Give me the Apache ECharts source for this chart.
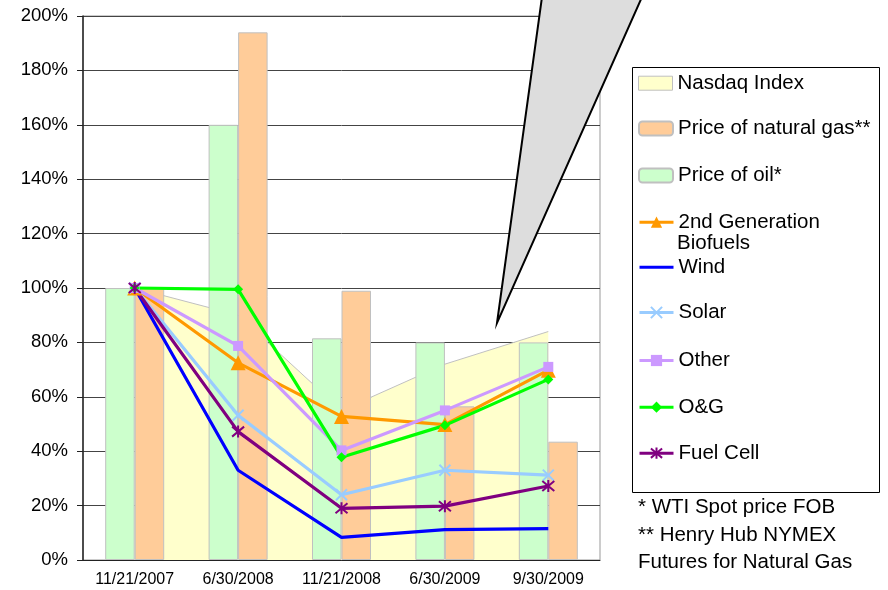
<!DOCTYPE html>
<html>
<head>
<meta charset="utf-8">
<script src="https://cdn.jsdelivr.net/npm/echarts@6/dist/echarts.min.js"></script>
<style>
  html, body { margin: 0; padding: 0; background: #fff; }
  #chart { width: 888px; height: 590px; }
</style>
</head>
<body>
<div id="chart"></div>
<script>
// categories and values (percent of 11/21/2007 level)
const dates = ["11/21/2007", "6/30/2008", "11/21/2008", "6/30/2009", "9/30/2009"];
const nasdaq = [100, 90, 55, 72, 84];
const oil = [100, 160, 81.5, 80, 80];
const gas = [100, 194, 99, 56.5, 43.5];
const biofuels = [100, 72.5, 52.8, 49.8, 69.8];
const wind = [100, 33, 8.3, 11.2, 11.5];
const solar = [100, 53.2, 24, 33, 31.2];
const other = [100, 78.7, 40.3, 55, 71];
const oandg = [100, 99.5, 37.8, 49.5, 66.4];
const fuelCell = [100, 47.2, 19, 19.8, 27.2];
const yTicks = [0, 20, 40, 60, 80, 100, 120, 140, 160, 180, 200];

const FONT = "Liberation Sans, Arial, sans-serif";
const xMark = "path://M0 0L10 10M10 0L0 10";
const starMark = "path://M0 0L10 10M10 0L0 10M5 -1L5 11";

const chart = echarts.init(document.getElementById("chart"));

function lineSeries(name, data, color, symbol, size, strokeOnly) {
  return {
    name: name,
    type: "line",
    data: data,
    z: 5,
    symbol: symbol,
    symbolSize: size,
    lineStyle: { color: color, width: 3.2 },
    itemStyle: strokeOnly
      ? { color: color, borderColor: color, borderWidth: 2 }
      : { color: color },
    emphasis: { disabled: true },
  };
}

const legendRows = [
  { name: "Nasdaq Index", y: 82.7 },
  { name: "Price of natural gas**", y: 128 },
  { name: "Price of oil*", y: 175 },
  { name: "2nd Generation Biofuels", y: 221.7 },
  { name: "Wind", y: 266.7 },
  { name: "Solar", y: 312 },
  { name: "Other", y: 360 },
  { name: "O&G", y: 406.7 },
  { name: "Fuel Cell", y: 452.7 },
];

const legends = legendRows.map(function (row) {
  let item = { name: row.name };
  if (row.name === "Nasdaq Index") {
    item = { name: row.name, icon: "rect", itemStyle: { color: "#FFFFCC", borderColor: "#C0C0C0", borderWidth: 1 } };
  }
  if (row.name === "Wind") {
    // plain line, no marker
    item = { name: row.name, itemStyle: { color: "rgba(0,0,0,0)", borderWidth: 0 } };
  }
  return {
    data: [item],
    left: 638,
    top: row.y - 10,
    padding: 0,
    itemWidth: 34,
    itemHeight: 14,
    selectedMode: false,
    lineStyle: { width: 3 },
    formatter: function (n) {
      return n === "2nd Generation Biofuels" ? "2nd Generation" : n;
    },
    textStyle: { fontFamily: FONT, fontSize: 20.5, color: "#000", lineHeight: 20 },
  };
});

const options = {
  animation: false,
  grid: {
    left: 83,
    right: 288,
    top: 16,
    bottom: 30,
    show: true,
    borderColor: "#999",
    borderWidth: 1,
  },
  legend: legends,
  xAxis: {
    type: "category",
    data: dates,
    axisLine: { lineStyle: { color: "#222", width: 1 } },
    axisTick: { length: 5, lineStyle: { color: "#222" } },
    axisLabel: { fontFamily: FONT, fontSize: 16, color: "#000", margin: 12 },
  },
  yAxis: {
    type: "value",
    min: yTicks[0],
    max: yTicks[yTicks.length - 1],
    interval: 20,
    axisLine: { show: true, lineStyle: { color: "#222", width: 1.5 } },
    axisTick: { show: true, length: 6, lineStyle: { color: "#222" } },
    axisLabel: { fontFamily: FONT, fontSize: 18.5, color: "#000", margin: 15, formatter: "{value}%" },
    splitLine: { lineStyle: { color: "#444", width: 1 } },
  },
  series: [
    {
      name: "Nasdaq Index",
      type: "line",
      data: nasdaq,
      z: 1,
      symbol: "none",
      lineStyle: { color: "#C0C0C0", width: 1 },
      itemStyle: { color: "#FFFFCC" },
      areaStyle: { color: "#FFFFCC", opacity: 1 },
    },
    {
      name: "Price of oil*",
      type: "bar",
      data: oil,
      z: 2,
      barWidth: 29.5,
      barGap: "0%",
      itemStyle: { color: "#CCFFCC", borderColor: "#C0C0C0", borderWidth: 1 },
    },
    {
      name: "Price of natural gas**",
      type: "bar",
      data: gas,
      z: 2,
      barWidth: 29.5,
      barGap: "0%",
      itemStyle: { color: "#FFCC99", borderColor: "#C0C0C0", borderWidth: 1 },
    },
    lineSeries("2nd Generation Biofuels", biofuels, "#FF9900", "triangle", 15, false),
    lineSeries("Wind", wind, "#0000FF", "none", 0, false),
    lineSeries("Solar", solar, "#99CCFF", xMark, 11, true),
    lineSeries("Other", other, "#CC99FF", "rect", 10, false),
    lineSeries("O&G", oandg, "#00FF00", "diamond", 10, false),
    lineSeries("Fuel Cell", fuelCell, "#800080", starMark, 12, true),
  ],
  graphic: [
    {
      type: "rect",
      shape: { x: 632.5, y: 67.5, width: 247, height: 425 },
      style: { fill: "none", stroke: "#000", lineWidth: 1 },
      z: 0,
    },
    {
      type: "text",
      left: 677,
      top: 233,
      style: { text: "Biofuels", fontFamily: FONT, fontSize: 20.5, fill: "#000" },
    },
    {
      type: "text",
      left: 638,
      top: 494,
      style: {
        text: "* WTI Spot price FOB\n** Henry Hub NYMEX\nFutures for Natural Gas",
        fontFamily: FONT,
        fontSize: 20.5,
        lineHeight: 27.5,
        fill: "#000",
      },
    },
    {
      type: "polygon",
      shape: { points: [[542, -3], [642, -3], [497, 323]] },
      style: { fill: "#DDDDDD", stroke: "#000", lineWidth: 2 },
      z: 10,
    },
  ],
};

chart.setOption(options);
</script>
</body>
</html>
